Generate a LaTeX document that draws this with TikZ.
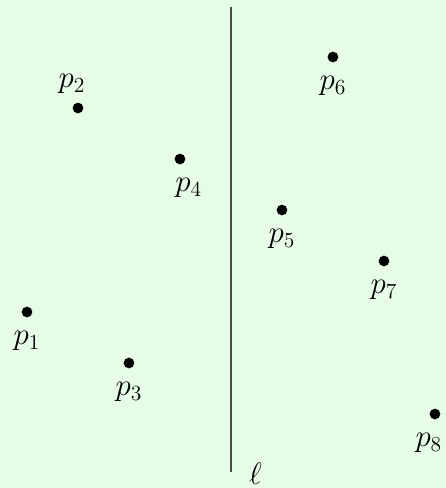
\documentclass[tikz,border=0pt]{standalone}
\usepackage{amsmath}
\usepackage{xcolor}
\usepackage{tikz}
\usetikzlibrary{positioning}
\definecolor{ptbg}{RGB}{231,252,231}
\definecolor{ptgray}{RGB}{70,78,70}
\tikzset{
  ptdot/.style={
    circle,
    fill=black,
    inner sep=0pt,
    minimum size=2.1mm
  },
  ptlabel/.style={font=\fontsize{18}{20}\selectfont, label distance=1.4mm},
  ptline/.style={line width=0.9pt, draw=ptgray}
}
\begin{document}
\begin{tikzpicture}
\fill[ptbg] (-0.529,-1.451) rectangle (8.216,8.118);
\useasboundingbox (-0.529,-1.451) rectangle (8.216,8.118);
\node[ptdot, label={[ptlabel]below:$p_1$}] (p1) at (0,2) {};
\node[ptdot, label={[ptlabel, label distance=0.5mm, xshift=-1.2mm]above:$p_2$}] (p2) at (1,6) {};
\node[ptdot, label={[ptlabel]below:$p_3$}] (p3) at (2,1) {};
\node[ptdot, label={[ptlabel, xshift=1.7mm]below:$p_4$}] (p4) at (3,5) {};
\node[ptdot, label={[ptlabel]below:$p_5$}] (p5) at (5,4) {};
\node[ptdot, label={[ptlabel]below:$p_6$}] (p6) at (6,7) {};
\node[ptdot, label={[ptlabel]below:$p_7$}] (p7) at (7,3) {};
\node[ptdot, label={[ptlabel, xshift=-1.2mm]below:$p_8$}] (p8) at (8,0) {};
\coordinate (ltop) at (4,7.98);
\coordinate (lbot) at (4,-1.14);
\draw[ptline] (ltop) -- (lbot);
\node[ptlabel] (ell) at (4.48,-1.18) {$\ell$};
\end{tikzpicture}
\end{document}
